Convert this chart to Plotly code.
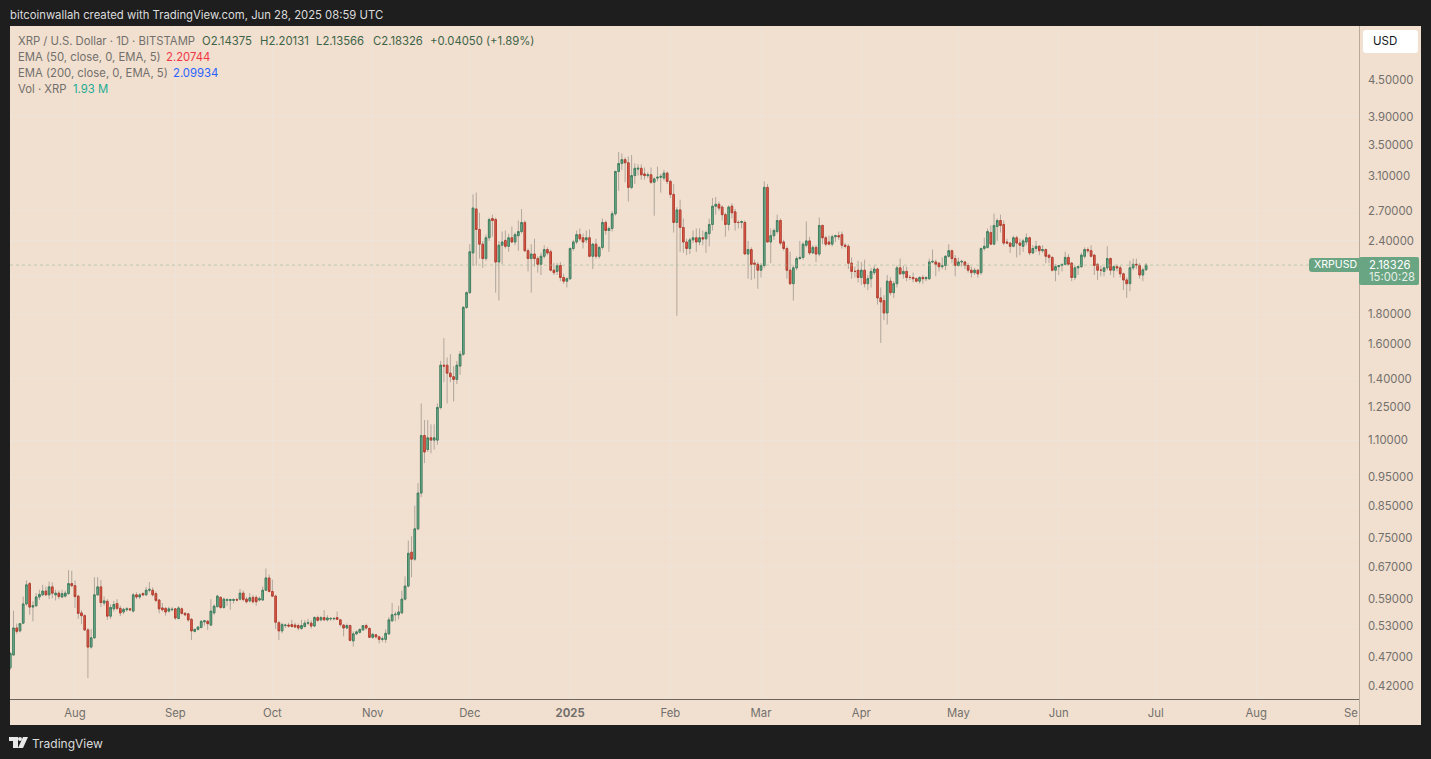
import pandas as pd
import plotly.graph_objects as go

W, H = 1431, 759
BG = "#1e1e1e"
PANEL = "#f1dfcf"
GRID = "#eee3d9"
TEXT = "#72706c"
FONT = "Inter, 'Liberation Sans', sans-serif"

opens = [
    .451, .474, .527, .521, .537, .579, .627, .572, .575, .595,
    .600, .609, .600, .619, .600, .604, .595, .597, .603, .627,
    .622, .597, .559, .553, .523, .489, .507, .600, .619, .581,
    .585, .552, .568, .580, .569, .561, .566, .568, .563, .600,
    .595, .603, .600, .611, .611, .603, .588, .570, .569, .563,
    .566, .568, .547, .568, .558, .557, .545, .520, .524, .528,
    .540, .541, .533, .559, .573, .594, .571, .587, .587, .587,
    .589, .590, .604, .590, .586, .594, .594, .588, .588, .611,
    .641, .608, .597, .538, .521, .532, .533, .534, .533, .532,
    .526, .530, .537, .537, .531, .549, .544, .549, .544, .546,
    .546, .549, .544, .533, .527, .532, .501, .515, .518, .523,
    .532, .526, .508, .513, .509, .504, .504, .515, .542, .555,
    .555, .559, .590, .621, .709, .690, .777, .894, 1.12, 1.06,
    1.11, 1.10, 1.10, 1.25, 1.475, 1.475, 1.43, 1.41, 1.395, 1.47,
    1.54, 1.85, 1.96, 2.29, 2.72, 2.51, 2.37, 2.24, 2.43, 2.62,
    2.61, 2.21, 2.36, 2.405, 2.35, 2.43, 2.39, 2.45, 2.49, 2.58,
    2.31, 2.24, 2.28, 2.24, 2.19, 2.26, 2.32, 2.30, 2.14, 2.13,
    2.18, 2.08, 2.05, 2.07, 2.33, 2.39, 2.46, 2.43, 2.41, 2.43,
    2.26, 2.37, 2.26, 2.34, 2.58, 2.50, 2.52, 2.67, 3.15, 3.25,
    3.30, 3.26, 2.96, 3.10, 3.18, 3.19, 3.12, 3.10, 3.11, 3.02,
    3.07, 3.08, 3.07, 3.13, 3.03, 2.88, 2.58, 2.71, 2.53, 2.39,
    2.33, 2.41, 2.43, 2.39, 2.43, 2.42, 2.47, 2.56, 2.75, 2.77,
    2.74, 2.66, 2.56, 2.75, 2.69, 2.58, 2.58, 2.58, 2.28, 2.32,
    2.20, 2.19, 2.14, 2.18, 2.96, 2.39, 2.45, 2.49, 2.60, 2.39,
    2.33, 2.14, 2.03, 2.16, 2.24, 2.25, 2.36, 2.40, 2.29, 2.34,
    2.28, 2.55, 2.43, 2.39, 2.37, 2.44, 2.45, 2.46, 2.36, 2.35,
    2.20, 2.13, 2.14, 2.08, 2.14, 2.03, 2.07, 2.12, 2.15, 1.92,
    1.90, 1.81, 2.05, 1.96, 2.03, 2.16, 2.11, 2.13, 2.08, 2.08,
    2.07, 2.05, 2.08, 2.07, 2.07, 2.21, 2.21, 2.20, 2.17, 2.18,
    2.26, 2.31, 2.24, 2.18, 2.21, 2.21, 2.18, 2.14, 2.12, 2.14,
    2.12, 2.33, 2.34, 2.48, 2.37, 2.54, 2.60, 2.56, 2.39, 2.38,
    2.35, 2.43, 2.38, 2.35, 2.39, 2.43, 2.29, 2.33, 2.35, 2.31,
    2.32, 2.27, 2.25, 2.14, 2.17, 2.18, 2.19, 2.25, 2.20, 2.08,
    2.16, 2.17, 2.26, 2.32, 2.31, 2.27, 2.19, 2.14, 2.13, 2.16,
    2.24, 2.14, 2.17, 2.16, 2.11, 2.06, 2.03, 2.16, 2.19, 2.18,
    2.10, 2.14375,
]
highs = [
    .479, .564, .536, .537, .596, .635, .631, .585, .604, .612,
    .624, .620, .632, .630, .612, .610, .612, .610, .661, .659,
    .635, .600, .565, .556, .527, .525, .643, .643, .636, .596,
    .590, .578, .586, .590, .575, .570, .572, .570, .604, .606,
    .604, .606, .619, .631, .618, .608, .590, .581, .572, .573,
    .572, .570, .574, .571, .561, .559, .548, .526, .530, .543,
    .544, .544, .590, .578, .600, .597, .593, .592, .591, .592,
    .593, .614, .610, .595, .604, .600, .599, .596, .620, .665,
    .650, .637, .600, .542, .538, .536, .538, .544, .538, .536,
    .544, .543, .546, .543, .552, .553, .552, .565, .554, .550,
    .550, .562, .546, .535, .536, .534, .520, .522, .526, .533,
    .536, .528, .517, .515, .511, .510, .524, .550, .581, .562,
    .575, .610, .645, .742, .755, .851, .930, 1.27, 1.19, 1.19,
    1.17, 1.17, 1.27, 1.50, 1.64, 1.52, 1.54, 1.47, 1.50, 1.56,
    1.86, 1.97, 2.37, 2.88, 2.90, 2.68, 2.40, 2.46, 2.63, 2.66,
    2.63, 2.40, 2.49, 2.50, 2.47, 2.54, 2.48, 2.60, 2.72, 2.60,
    2.33, 2.37, 2.42, 2.26, 2.29, 2.36, 2.34, 2.32, 2.20, 2.20,
    2.21, 2.11, 2.08, 2.34, 2.41, 2.50, 2.52, 2.47, 2.50, 2.51,
    2.38, 2.42, 2.35, 2.62, 2.60, 2.54, 2.70, 3.16, 3.40, 3.38,
    3.33, 3.34, 3.36, 3.25, 3.24, 3.24, 3.20, 3.14, 3.20, 3.08,
    3.21, 3.12, 3.17, 3.15, 3.05, 3.00, 2.74, 2.82, 2.62, 2.42,
    2.43, 2.50, 2.52, 2.52, 2.50, 2.50, 2.62, 2.84, 2.85, 2.80,
    2.76, 2.68, 2.76, 2.78, 2.72, 2.60, 2.60, 2.60, 2.40, 2.34,
    2.23, 2.21, 2.20, 3.03, 3.00, 2.52, 2.52, 2.66, 2.62, 2.41,
    2.35, 2.30, 2.18, 2.26, 2.40, 2.39, 2.59, 2.44, 2.36, 2.36,
    2.63, 2.56, 2.45, 2.45, 2.46, 2.46, 2.49, 2.49, 2.38, 2.37,
    2.25, 2.17, 2.22, 2.21, 2.23, 2.10, 2.16, 2.18, 2.16, 2.00,
    1.94, 2.10, 2.08, 2.05, 2.18, 2.24, 2.18, 2.17, 2.10, 2.12,
    2.08, 2.09, 2.10, 2.09, 2.24, 2.32, 2.23, 2.21, 2.25, 2.27,
    2.37, 2.32, 2.27, 2.25, 2.23, 2.22, 2.20, 2.17, 2.16, 2.15,
    2.34, 2.43, 2.52, 2.55, 2.67, 2.62, 2.66, 2.60, 2.42, 2.39,
    2.45, 2.45, 2.42, 2.42, 2.47, 2.44, 2.36, 2.40, 2.36, 2.36,
    2.33, 2.28, 2.26, 2.19, 2.18, 2.19, 2.30, 2.28, 2.21, 2.18,
    2.18, 2.29, 2.34, 2.34, 2.36, 2.28, 2.20, 2.18, 2.17, 2.35,
    2.25, 2.18, 2.19, 2.18, 2.12, 2.08, 2.22, 2.24, 2.24, 2.20,
    2.16, 2.20131,
]
lows = [
    .447, .474, .515, .518, .535, .575, .555, .541, .572, .588,
    .597, .598, .590, .592, .587, .590, .592, .594, .600, .618,
    .570, .546, .535, .521, .433, .486, .505, .598, .572, .575,
    .544, .546, .562, .565, .552, .556, .562, .563, .560, .590,
    .590, .597, .598, .606, .596, .583, .558, .562, .553, .560,
    .563, .544, .545, .555, .552, .540, .503, .518, .522, .526,
    .532, .523, .531, .555, .571, .568, .568, .575, .566, .580,
    .585, .587, .585, .580, .582, .580, .575, .585, .586, .609,
    .606, .595, .525, .503, .516, .527, .528, .528, .527, .522,
    .523, .528, .533, .526, .529, .540, .541, .542, .541, .542,
    .543, .544, .530, .510, .525, .500, .490, .513, .516, .521,
    .523, .507, .505, .506, .496, .499, .497, .513, .540, .541,
    .545, .557, .587, .618, .643, .685, .773, .880, 1.005, 1.05,
    1.045, 1.06, 1.08, 1.24, 1.38, 1.27, 1.38, 1.28, 1.37, 1.42,
    1.53, 1.84, 1.95, 2.18, 2.18, 2.24, 2.16, 2.22, 2.40, 2.44,
    1.96, 1.90, 2.19, 2.33, 2.30, 2.38, 2.36, 2.31, 2.47, 2.30,
    2.13, 1.96, 2.17, 2.12, 2.10, 2.24, 2.27, 2.13, 2.10, 2.10,
    2.05, 2.03, 2.00, 2.06, 2.31, 2.37, 2.40, 2.33, 2.38, 2.25,
    2.15, 2.24, 2.24, 2.32, 2.46, 2.30, 2.49, 2.65, 2.92, 3.17,
    3.02, 2.80, 2.94, 3.00, 3.10, 3.05, 3.05, 3.07, 3.00, 2.65,
    3.03, 2.90, 3.04, 3.00, 2.84, 2.48, 1.79, 2.30, 2.29, 2.27,
    2.28, 2.38, 2.30, 2.36, 2.36, 2.29, 2.35, 2.50, 2.66, 2.70,
    2.60, 2.44, 2.50, 2.62, 2.50, 2.52, 2.52, 2.28, 2.07, 2.06,
    2.07, 1.99, 2.08, 2.16, 2.39, 2.20, 2.41, 2.47, 2.36, 2.31,
    2.07, 2.02, 1.90, 2.14, 2.23, 2.23, 2.34, 2.27, 2.28, 2.21,
    2.26, 2.37, 2.35, 2.36, 2.35, 2.39, 2.41, 2.33, 2.33, 2.15,
    2.07, 2.08, 2.04, 2.02, 2.00, 1.98, 2.00, 2.10, 1.87, 1.61,
    1.76, 1.73, 1.94, 1.92, 2.00, 2.10, 2.07, 2.05, 2.06, 2.04,
    2.04, 2.03, 2.03, 2.05, 2.06, 2.20, 2.09, 2.13, 2.15, 2.14,
    2.25, 2.20, 2.09, 2.17, 2.17, 2.15, 2.12, 2.08, 2.10, 2.08,
    2.10, 2.31, 2.33, 2.36, 2.36, 2.40, 2.48, 2.36, 2.37, 2.29,
    2.34, 2.25, 2.27, 2.30, 2.36, 2.27, 2.28, 2.30, 2.27, 2.29,
    2.20, 2.20, 2.13, 2.05, 2.10, 2.13, 2.18, 2.18, 2.05, 2.06,
    2.10, 2.16, 2.24, 2.29, 2.25, 2.10, 2.06, 2.09, 2.09, 2.14,
    2.10, 2.08, 2.13, 2.08, 1.98, 1.92, 1.97, 2.14, 2.15, 2.07,
    2.05, 2.13566,
]
closes = [
    .477, .527, .520, .536, .579, .624, .572, .575, .595, .601,
    .609, .600, .619, .604, .604, .596, .603, .604, .627, .622,
    .596, .558, .553, .523, .489, .507, .600, .619, .582, .586,
    .552, .571, .578, .569, .559, .567, .568, .566, .600, .595,
    .600, .600, .611, .613, .600, .587, .568, .566, .561, .568,
    .567, .548, .570, .558, .555, .544, .521, .524, .529, .541,
    .542, .536, .563, .574, .597, .571, .590, .589, .589, .589,
    .588, .604, .589, .584, .593, .584, .584, .591, .611, .641,
    .608, .597, .539, .521, .534, .533, .531, .530, .529, .527,
    .532, .537, .538, .531, .549, .543, .549, .544, .548, .547,
    .547, .545, .534, .527, .532, .502, .515, .519, .524, .532,
    .527, .508, .514, .509, .504, .505, .516, .544, .555, .556,
    .561, .590, .621, .706, .690, .777, .894, 1.12, 1.05, 1.11,
    1.10, 1.11, 1.25, 1.475, 1.47, 1.43, 1.41, 1.395, 1.475, 1.54,
    1.85, 1.96, 2.30, 2.73, 2.51, 2.37, 2.24, 2.43, 2.61, 2.60,
    2.21, 2.36, 2.39, 2.35, 2.43, 2.39, 2.46, 2.49, 2.58, 2.31,
    2.24, 2.28, 2.24, 2.19, 2.26, 2.32, 2.29, 2.14, 2.12, 2.18,
    2.08, 2.05, 2.07, 2.33, 2.39, 2.46, 2.42, 2.39, 2.43, 2.26,
    2.37, 2.26, 2.34, 2.58, 2.50, 2.52, 2.67, 3.15, 3.25, 3.30,
    3.26, 2.96, 3.10, 3.19, 3.19, 3.11, 3.10, 3.11, 3.02, 3.06,
    3.08, 3.09, 3.13, 3.03, 2.88, 2.58, 2.71, 2.53, 2.39, 2.33,
    2.41, 2.43, 2.39, 2.43, 2.42, 2.48, 2.56, 2.75, 2.77, 2.73,
    2.66, 2.56, 2.74, 2.68, 2.58, 2.58, 2.59, 2.28, 2.32, 2.19,
    2.19, 2.14, 2.18, 2.96, 2.39, 2.45, 2.50, 2.60, 2.38, 2.33,
    2.14, 2.03, 2.16, 2.24, 2.25, 2.37, 2.40, 2.29, 2.34, 2.28,
    2.55, 2.43, 2.37, 2.37, 2.44, 2.45, 2.44, 2.36, 2.35, 2.20,
    2.13, 2.13, 2.08, 2.14, 2.03, 2.07, 2.13, 2.15, 1.92, 1.89,
    1.81, 2.05, 1.96, 2.03, 2.16, 2.11, 2.13, 2.08, 2.08, 2.07,
    2.05, 2.08, 2.07, 2.08, 2.21, 2.215, 2.19, 2.17, 2.18, 2.26,
    2.31, 2.24, 2.18, 2.21, 2.215, 2.18, 2.14, 2.12, 2.14, 2.11,
    2.33, 2.35, 2.49, 2.37, 2.55, 2.60, 2.55, 2.38, 2.38, 2.35,
    2.43, 2.38, 2.36, 2.40, 2.43, 2.29, 2.33, 2.35, 2.31, 2.32,
    2.26, 2.25, 2.14, 2.17, 2.18, 2.19, 2.25, 2.19, 2.08, 2.16,
    2.17, 2.27, 2.32, 2.31, 2.26, 2.18, 2.14, 2.14, 2.16, 2.24,
    2.14, 2.17, 2.16, 2.11, 2.06, 2.03, 2.16, 2.19, 2.185, 2.10,
    2.14276, 2.18326,
]

price_ticks = [4.5, 3.9, 3.5, 3.1, 2.7, 2.4, 1.8, 1.6, 1.4, 1.25, 1.1,
               0.95, 0.85, 0.75, 0.67, 0.59, 0.53, 0.47, 0.42]
grid_prices = [3.9, 2.7, 2.4, 2.1, 1.8, 1.4, 1.1, 0.95, 0.85, 0.75, 0.67, 0.53]
month_ticks = ["2024-08-01", "2024-09-01", "2024-10-01", "2024-11-01", "2024-12-01",
               "2025-01-01", "2025-02-01", "2025-03-01", "2025-04-01", "2025-05-01",
               "2025-06-01", "2025-07-01", "2025-08-01"]
month_labels = ["Aug", "Sep", "Oct", "Nov", "Dec", "<b>2025</b>", "Feb", "Mar", "Apr",
                "May", "Jun", "Jul", "Aug"]

dates = pd.date_range("2024-07-12", periods=len(closes))
body_tops = [max(o, c) for o, c in zip(opens, closes)]
body_bottoms = [min(o, c) for o, c in zip(opens, closes)]


def px(x):
    return x / W


def py(y):
    return 1 - y / H


def label(text, x, y, color, size=11.3, anchor="left"):
    return dict(text=text, x=px(x), y=py(y), xref="paper", yref="paper", showarrow=False,
                xanchor=anchor, yanchor="middle", borderpad=0,
                font=dict(family=FONT, size=size, color=color))


def rect(x0, y0, x1, y1, color, layer="above"):
    return dict(type="rect", xref="paper", yref="paper", x0=px(x0), x1=px(x1), y0=py(y0),
                y1=py(y1), fillcolor=color, line_width=0, layer=layer)


def rounded(x0, y0, x1, y1, color, r=3):
    pts = (f"M {px(x0 + r)} {py(y0)} L {px(x1 - r)} {py(y0)} Q {px(x1)} {py(y0)} {px(x1)} {py(y0 + r)} "
           f"L {px(x1)} {py(y1 - r)} Q {px(x1)} {py(y1)} {px(x1 - r)} {py(y1)} "
           f"L {px(x0 + r)} {py(y1)} Q {px(x0)} {py(y1)} {px(x0)} {py(y1 - r)} "
           f"L {px(x0)} {py(y0 + r)} Q {px(x0)} {py(y0)} {px(x0 + r)} {py(y0)} Z")
    return dict(type="path", xref="paper", yref="paper", path=pts, fillcolor=color, line_width=0)


fig = go.Figure()
# wicks first, bodies drawn on top of them
fig.add_trace(go.Candlestick(
    x=dates, open=opens, high=highs, low=lows, close=closes, whiskerwidth=0,
    increasing=dict(line=dict(color="rgba(100,100,95,0.45)", width=1), fillcolor="rgba(0,0,0,0)"),
    decreasing=dict(line=dict(color="rgba(100,100,95,0.45)", width=1), fillcolor="rgba(0,0,0,0)"),
    showlegend=False, hoverinfo="skip",
))
fig.add_trace(go.Candlestick(
    x=dates, open=opens, high=body_tops, low=body_bottoms, close=closes, whiskerwidth=0,
    increasing=dict(line=dict(color="#3f8060", width=1), fillcolor="#78b394"),
    decreasing=dict(line=dict(color="#b83f30", width=1), fillcolor="#e2604c"),
    showlegend=False, hoverinfo="skip",
))
fig.add_trace(go.Scatter(
    x=["2024-07-11 22:00", "2025-08-17 07:00"], y=[closes[-1], closes[-1]], mode="lines",
    line=dict(color="rgba(150,190,150,0.6)", width=1, dash="dot"), showlegend=False, hoverinfo="skip",
))

shapes = [
    rect(10, 26, 1421, 725, PANEL, layer="below"),
    dict(type="line", xref="paper", yref="paper", x0=px(1359.5), x1=px(1359.5), y0=py(26), y1=py(725),
         line=dict(color="#b9ab9c", width=1)),
    rounded(1363, 30, 1418, 53, "#ffffff"),
    rounded(1309, 258, 1362, 272, "#6aa583"),
    rounded(1359, 257, 1419, 285, "#6aa583", r=2),
    # TradingView mark
    rect(9, 737, 18, 741, "#e8e8e8"),
    rect(13, 741, 18, 748, "#e8e8e8"),
    dict(type="circle", xref="paper", yref="paper", x0=px(18), x1=px(22), y0=py(737), y1=py(741),
         fillcolor="#e8e8e8", line_width=0),
    dict(type="path", xref="paper", yref="paper", fillcolor="#e8e8e8", line_width=0,
         path=f"M {px(23)} {py(737)} L {px(28)} {py(737)} L {px(23)} {py(748)} L {px(18)} {py(748)} Z"),
]

annotations = [
    label("bitcoinwallah created with TradingView.com, Jun 28, 2025 08:59 UTC", 9, 15, "#dcdcdc"),
    label("XRP / U.S. Dollar · 1D · BITSTAMP", 16.5, 41, TEXT),
    label("O2.14375", 201, 41, "#3d6347"),
    label("H2.20131", 258.5, 41, "#3d6347"),
    label("L2.13566", 315, 41, "#3d6347"),
    label("C2.18326", 372, 41, "#3d6347"),
    label("+0.04050 (+1.89%)", 429.5, 41, "#3d6347"),
    label("EMA (50, close, 0, EMA, 5)", 16.5, 57, TEXT),
    label("2.20744", 165, 57, "#f23645"),
    label("EMA (200, close, 0, EMA, 5)", 16.5, 73, TEXT),
    label("2.09934", 172, 73, "#2962ff"),
    label("Vol · XRP", 16.5, 89, TEXT),
    label("1.93 M", 71.5, 89, "#22ab94"),
    label("USD", 1372, 41.5, "#131722", size=11.5),
    label("XRPUSD", 1313, 264.5, "#ffffff", size=10.6),
    label("2.18326", 1368, 264.5, "#ffffff"),
    label("15:00:28", 1368, 277, "#e6efe6"),
    label("Se", 1359, 712.5, TEXT, anchor="right"),
    label("TradingView", 31, 743.5, "#dcdcdc", size=12),
]

fig.update_layout(
    width=W, height=H, margin=dict(l=0, r=0, t=0, b=0), autosize=False,
    paper_bgcolor=BG, plot_bgcolor=PANEL, shapes=shapes, annotations=annotations,
    font=dict(family=FONT, size=11.3, color=TEXT), showlegend=False,
    xaxis=dict(
        domain=[px(10), px(1359)], type="date", rangeslider=dict(visible=False),
        range=["2024-07-11 22:00", "2025-09-01 19:00"],
        tickmode="array", tickvals=month_ticks, ticktext=month_labels, tickangle=0,
        showgrid=True, gridcolor=GRID, gridwidth=1, ticks="", zeroline=False,
        showline=True, linecolor="#6b6560", linewidth=1, ticklabelstandoff=3,
        tickfont=dict(family=FONT, size=11.3, color=TEXT),
    ),
    yaxis=dict(
        domain=[py(699), py(26)], type="log", side="right", anchor="x",
        range=[-0.39903, 0.74586],
        tickmode="array", tickvals=price_ticks, ticktext=[f"{t:.5f}" for t in price_ticks],
        showgrid=False, ticks="", zeroline=False, showline=False,
        ticklabelstandoff=8,
        tickfont=dict(family=FONT, size=11.3, color=TEXT),
        minor=dict(tickmode="array", tickvals=grid_prices, showgrid=True, gridcolor=GRID,
                   gridwidth=1, ticks=""),
    ),
)

fig.write_html("out.html", config=dict(displayModeBar=False),
               post_script="document.body.style.margin='0';document.body.style.overflow='hidden';")
